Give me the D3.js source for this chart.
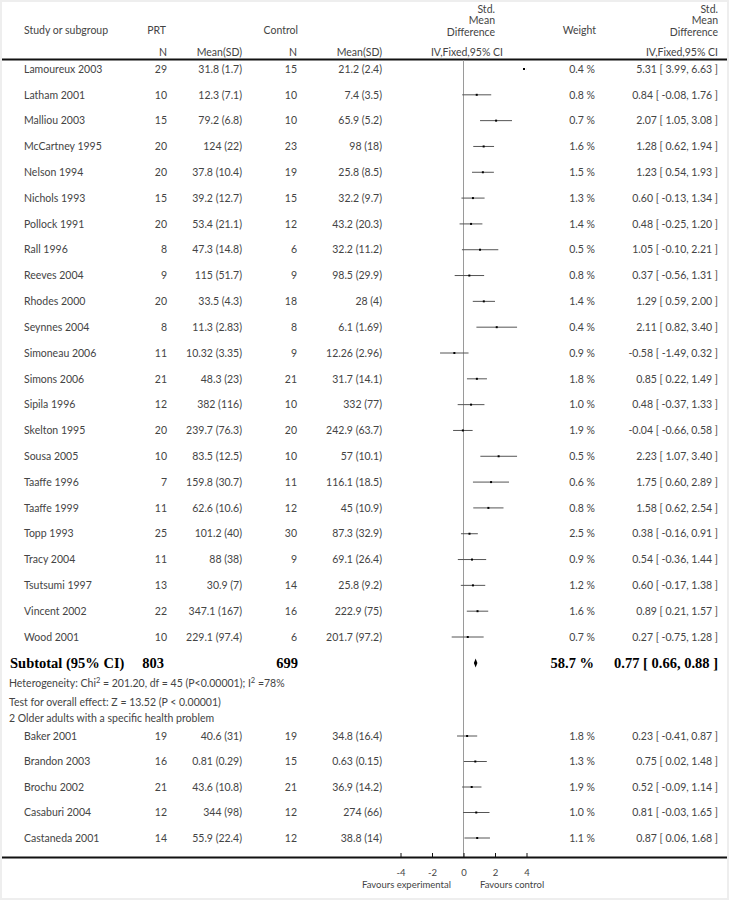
<!DOCTYPE html>
<html>
<head>
<meta charset="utf-8">
<script src="https://cdn.jsdelivr.net/npm/d3@7"></script>
<style>
  body { margin: 0; background: #fff; }
  svg { display: block; }
  .txt { font-family: Lato, "Open Sans", sans-serif; font-size: 10.5px; fill: #444; }
  .bold { font-family: "Liberation Serif", "DejaVu Serif", serif; font-size: 14.5px; font-weight: bold; fill: #000; }
</style>
</head>
<body>
<div id="chart"></div>
<script>

// --- data ---
var studies = ['Lamoureux 2003', 'Latham 2001', 'Malliou 2003', 'McCartney 1995', 'Nelson 1994',
    'Nichols 1993', 'Pollock 1991', 'Rall 1996', 'Reeves 2004', 'Rhodes 2000', 'Seynnes 2004',
    'Simoneau 2006', 'Simons 2006', 'Sipila 1996', 'Skelton 1995', 'Sousa 2005', 'Taaffe 1996',
    'Taaffe 1999', 'Topp 1993', 'Tracy 2004', 'Tsutsumi 1997', 'Vincent 2002', 'Wood 2001',
    'Baker 2001', 'Brandon 2003', 'Brochu 2002', 'Casaburi 2004', 'Castaneda 2001'];
var group = [1,1,1,1,1,1,1,1,1,1,1,1,1,1,1,1,1,1,1,1,1,1,1, 2,2,2,2,2];
var prtN = [29, 10, 15, 20, 20, 15, 20, 8, 9, 20, 8, 11, 21, 12, 20, 10, 7, 11, 25, 11, 13, 22, 10,
    19, 16, 21, 12, 14];
var prtMeanSD = ['31.8 (1.7)', '12.3 (7.1)', '79.2 (6.8)', '124 (22)', '37.8 (10.4)', '39.2 (12.7)',
    '53.4 (21.1)', '47.3 (14.8)', '115 (51.7)', '33.5 (4.3)', '11.3 (2.83)', '10.32 (3.35)',
    '48.3 (23)', '382 (116)', '239.7 (76.3)', '83.5 (12.5)', '159.8 (30.7)', '62.6 (10.6)',
    '101.2 (40)', '88 (38)', '30.9 (7)', '347.1 (167)', '229.1 (97.4)',
    '40.6 (31)', '0.81 (0.29)', '43.6 (10.8)', '344 (98)', '55.9 (22.4)'];
var ctlN = [15, 10, 10, 23, 19, 15, 12, 6, 9, 18, 8, 9, 21, 10, 20, 10, 11, 12, 30, 9, 14, 16, 6,
    19, 15, 21, 12, 12];
var ctlMeanSD = ['21.2 (2.4)', '7.4 (3.5)', '65.9 (5.2)', '98 (18)', '25.8 (8.5)', '32.2 (9.7)',
    '43.2 (20.3)', '32.2 (11.2)', '98.5 (29.9)', '28 (4)', '6.1 (1.69)', '12.26 (2.96)',
    '31.7 (14.1)', '332 (77)', '242.9 (63.7)', '57 (10.1)', '116.1 (18.5)', '45 (10.9)',
    '87.3 (32.9)', '69.1 (26.4)', '25.8 (9.2)', '222.9 (75)', '201.7 (97.2)',
    '34.8 (16.4)', '0.63 (0.15)', '36.9 (14.2)', '274 (66)', '38.8 (14)'];
var weight = [0.4, 0.8, 0.7, 1.6, 1.5, 1.3, 1.4, 0.5, 0.8, 1.4, 0.4, 0.9, 1.8, 1.0, 1.9, 0.5, 0.6,
    0.8, 2.5, 0.9, 1.2, 1.6, 0.7, 1.8, 1.3, 1.9, 1.0, 1.1];
var smd = [5.31, 0.84, 2.07, 1.28, 1.23, 0.60, 0.48, 1.05, 0.37, 1.29, 2.11, -0.58, 0.85, 0.48,
    -0.04, 2.23, 1.75, 1.58, 0.38, 0.54, 0.60, 0.89, 0.27, 0.23, 0.75, 0.52, 0.81, 0.87];
var ciLow = [3.99, -0.08, 1.05, 0.62, 0.54, -0.13, -0.25, -0.10, -0.56, 0.59, 0.82, -1.49, 0.22,
    -0.37, -0.66, 1.07, 0.60, 0.62, -0.16, -0.36, -0.17, 0.21, -0.75, -0.41, 0.02, -0.09, -0.03, 0.06];
var ciHigh = [6.63, 1.76, 3.08, 1.94, 1.93, 1.34, 1.20, 2.21, 1.31, 2.00, 3.40, 0.32, 1.49, 1.33,
    0.58, 3.40, 2.89, 2.54, 0.91, 1.44, 1.38, 1.57, 1.28, 0.87, 1.48, 1.14, 1.65, 1.68];

var subtotal = { prtN: 803, ctlN: 699, weight: '58.7 %', est: 0.77, lo: 0.66, hi: 0.88 };
var xTicks = [-4, -2, 0, 2, 4];

var width = 729, height = 900;
// plain hyphen for negatives, like the original
var fmt = function(v) { return d3.format('.2f')(v).replace('\u2212', '-'); };

var svg = d3.select('#chart').append('svg')
    .attr('width', width).attr('height', height);

// faint frame
svg.append('rect').attr('x', 0.5).attr('y', 0.5).attr('width', width - 1).attr('height', height - 1)
    .attr('fill', 'none').attr('stroke', '#eeeeee').attr('stroke-width', 3);

// scales
var x = d3.scaleLinear().domain([-4, 4]).range([400.5, 526.5]);
var y1 = d3.scaleLinear().domain([0, 22]).range([69, 637]);
var y2 = d3.scaleLinear().domain([0, 4]).range([736, 838]);

var col = { name: 24, prtN: 167, prtMean: 242, ctlN: 297, ctlMean: 382, weight: 595, effect: 718 };

function txt(xp, yp, s, anchor, cls) {
    return svg.append('text').attr('class', cls || 'txt')
        .attr('x', xp).attr('y', yp).attr('dy', '0.35em')
        .attr('text-anchor', anchor || 'start').text(s);
}

// header
txt(col.name, 30, 'Study or subgroup');
txt(166, 30, 'PRT', 'end');
txt(col.prtN, 52, 'N', 'end');
txt(col.prtMean, 52, 'Mean(SD)', 'end');
txt(298, 30, 'Control', 'end');
txt(col.ctlN, 52, 'N', 'end');
txt(col.ctlMean, 52, 'Mean(SD)', 'end');
['Std.', 'Mean', 'Difference'].forEach(function(s, i) {
    txt(495, 9 + i * 11.5, s, 'end');
    txt(col.effect, 9 + i * 11.5, s, 'end');
});
txt(503, 52, 'IV,Fixed,95% CI', 'end');
txt(col.effect, 52, 'IV,Fixed,95% CI', 'end');
txt(596, 30, 'Weight', 'end');

svg.append('line').attr('x1', 2).attr('x2', 727).attr('y1', 59.5).attr('y2', 59.5)
    .attr('stroke', '#111').attr('stroke-width', 2);

// zero line
svg.append('line').attr('x1', x(0)).attr('x2', x(0)).attr('y1', 60).attr('y2', 857)
    .attr('stroke', '#9a9a9a').attr('stroke-width', 1);

// rows
var idx = d3.range(studies.length);
var g2start = group.indexOf(2);
function rowY(i) { return group[i] == 1 ? y1(i) : y2(i - g2start); }

var rows = svg.append('g').selectAll('g').data(idx).enter().append('g')
    .attr('transform', function(i) { return 'translate(0,' + rowY(i) + ')'; });

function cell(sel, xp, f, anchor) {
    sel.append('text').attr('class', 'txt').attr('x', xp).attr('dy', '0.35em')
        .attr('text-anchor', anchor).text(f);
}
cell(rows, col.name, function(i) { return studies[i]; }, 'start');
cell(rows, col.prtN, function(i) { return prtN[i]; }, 'end');
cell(rows, col.prtMean, function(i) { return prtMeanSD[i]; }, 'end');
cell(rows, col.ctlN, function(i) { return ctlN[i]; }, 'end');
cell(rows, col.ctlMean, function(i) { return ctlMeanSD[i]; }, 'end');
cell(rows, col.weight, function(i) { return d3.format('.1f')(weight[i]) + ' %'; }, 'end');
cell(rows, col.effect, function(i) {
    return fmt(smd[i]) + ' [ ' + fmt(ciLow[i]) + ', ' + fmt(ciHigh[i]) + ' ]';
}, 'end');

// CI lines + point marks (clipped to axis range)
var clamp = function(v) { return Math.max(-4, Math.min(4, v)); };
rows.append('line')
    .attr('x1', function(i) { return x(clamp(ciLow[i])); })
    .attr('x2', function(i) { return x(clamp(ciHigh[i])); })
    .attr('stroke', '#555').attr('stroke-width', 1);
rows.append('rect')
    .attr('x', function(i) { return x(clamp(smd[i])) - 1 - (clamp(smd[i]) != smd[i] ? 2.5 : 0); })
    .attr('y', -1).attr('width', 2).attr('height', 2)
    .attr('fill', '#000');

// subtotal
var ys = 663;
txt(10, ys, 'Subtotal (95% CI)', 'start', 'bold');
txt(164, ys, subtotal.prtN, 'end', 'bold');
txt(298, ys, subtotal.ctlN, 'end', 'bold');
txt(594, ys, subtotal.weight, 'end', 'bold');
txt(col.effect, ys, fmt(subtotal.est) + ' [ ' + fmt(subtotal.lo) + ', ' + fmt(subtotal.hi) + ' ]', 'end', 'bold');
svg.append('path')
    .attr('d', d3.line()([[x(subtotal.lo), ys], [x(subtotal.est), ys - 4.5],
        [x(subtotal.hi), ys], [x(subtotal.est), ys + 4.5]]) + 'Z')
    .attr('fill', '#000');

var het = txt(9, 683, 'Heterogeneity: Chi');
het.append('tspan').attr('baseline-shift', 'super').attr('font-size', '7.5px').text('2');
het.append('tspan').text(' = 201.20, df = 45 (P<0.00001); I');
het.append('tspan').attr('baseline-shift', 'super').attr('font-size', '7.5px').text('2');
het.append('tspan').text(' =78%');
txt(9, 702, 'Test for overall effect: Z = 13.52 (P < 0.00001)');
txt(9, 718, '2 Older adults with a specific health problem');

// bottom rule + axis
svg.append('line').attr('x1', 2).attr('x2', 727).attr('y1', 857.5).attr('y2', 857.5)
    .attr('stroke', '#111').attr('stroke-width', 2);

var axis = svg.append('g').attr('transform', 'translate(0,857)')
    .call(d3.axisBottom(x).tickValues(xTicks).tickSize(-4).tickPadding(12)
        .tickFormat(function(d) { return String(d); }));
axis.select('.domain').remove();
axis.selectAll('.tick line').attr('stroke', '#111');
axis.selectAll('.tick text').attr('class', 'txt').attr('font-size', null).attr('font-family', null)
    .style('font-size', '9.5px');

txt(x(-0.8), 885, 'Favours experimental', 'end').style('font-size', '9.5px');
txt(x(1.05), 885, 'Favours control', 'start').style('font-size', '9.5px');

</script>
</body>
</html>
